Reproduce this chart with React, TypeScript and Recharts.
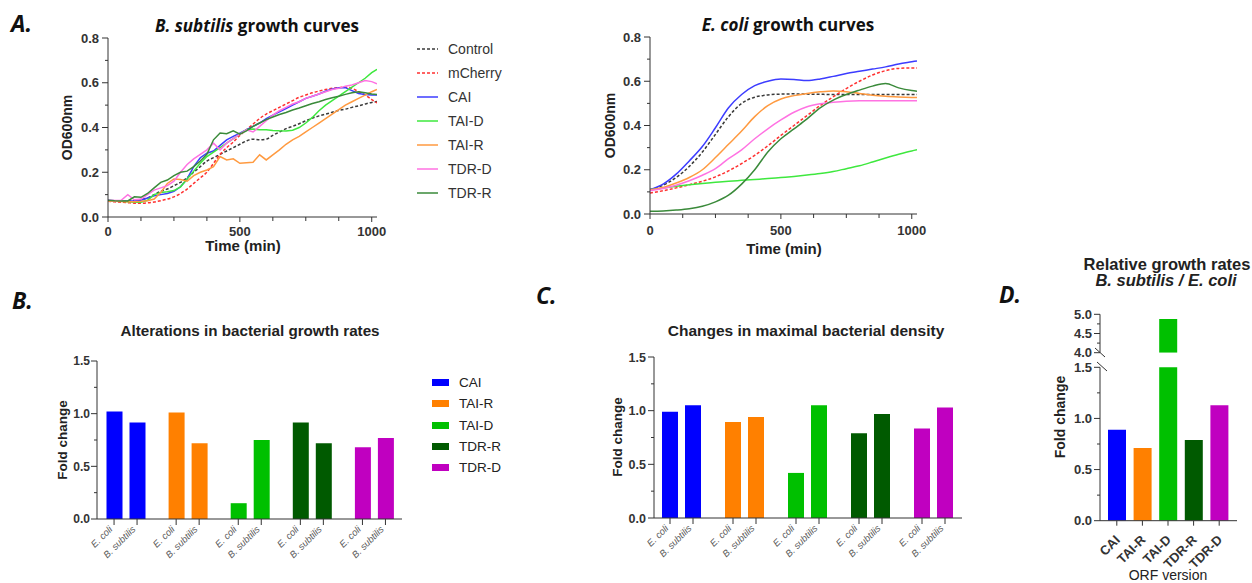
import React from 'react';
import { LineChart, Line, XAxis, YAxis, BarChart, Bar, Cell, Legend } from 'recharts';

// ---------- growth curves ----------
const seriesNames = ['Control', 'mCherry', 'CAI', 'TAI-D', 'TAI-R', 'TDR-D', 'TDR-R'];

const timeBs = [0, 25, 50, 75, 100, 125, 150, 175, 200, 225, 250, 275, 300, 325, 350, 375, 400, 425, 450, 475, 500, 525, 550, 575, 600, 625, 650, 675, 700, 725, 750, 775, 800, 825, 850, 875, 900, 925, 950, 975, 1000, 1020];
const controlBs = [0.07, 0.07, 0.07, 0.07, 0.072, 0.078, 0.085, 0.1, 0.115, 0.125, 0.14, 0.155, 0.175, 0.2, 0.225, 0.25, 0.265, 0.28, 0.295, 0.31, 0.325, 0.34, 0.348, 0.345, 0.348, 0.365, 0.38, 0.395, 0.405, 0.417, 0.43, 0.442, 0.452, 0.46, 0.468, 0.476, 0.482, 0.49, 0.497, 0.505, 0.512, 0.516];
const mCherryBs = [0.07, 0.068, 0.066, 0.064, 0.062, 0.061, 0.063, 0.067, 0.073, 0.08, 0.09, 0.105, 0.125, 0.15, 0.175, 0.2, 0.24, 0.28, 0.31, 0.335, 0.365, 0.39, 0.415, 0.44, 0.46, 0.475, 0.49, 0.505, 0.52, 0.535, 0.545, 0.555, 0.563, 0.57, 0.575, 0.578, 0.58, 0.575, 0.56, 0.545, 0.525, 0.51];
const caiBs = [0.075, 0.073, 0.072, 0.072, 0.073, 0.075, 0.085, 0.095, 0.1, 0.105, 0.115, 0.135, 0.17, 0.225, 0.265, 0.285, 0.295, 0.32, 0.345, 0.36, 0.375, 0.39, 0.405, 0.42, 0.44, 0.455, 0.47, 0.485, 0.5, 0.515, 0.53, 0.54, 0.55, 0.562, 0.572, 0.578, 0.578, 0.565, 0.552, 0.548, 0.545, 0.545];
const taiDBs = [0.07, 0.07, 0.07, 0.068, 0.066, 0.066, 0.075, 0.1, 0.11, 0.113, 0.118, 0.135, 0.17, 0.205, 0.24, 0.27, 0.29, 0.31, 0.33, 0.35, 0.37, 0.39, 0.393, 0.39, 0.39, 0.387, 0.385, 0.384, 0.388, 0.4, 0.42, 0.445, 0.475, 0.5, 0.52, 0.54, 0.56, 0.58, 0.6, 0.62, 0.645, 0.66];
const taiRBs = [0.07, 0.07, 0.069, 0.068, 0.068, 0.07, 0.073, 0.08, 0.11, 0.15, 0.17, 0.168, 0.16, 0.185, 0.2, 0.21, 0.225, 0.27, 0.255, 0.26, 0.24, 0.243, 0.245, 0.278, 0.255, 0.278, 0.3, 0.325, 0.345, 0.36, 0.38, 0.4, 0.42, 0.44, 0.46, 0.48, 0.5, 0.515, 0.53, 0.545, 0.56, 0.57];
const tdrDBs = [0.075, 0.074, 0.075, 0.1, 0.077, 0.08, 0.1, 0.12, 0.13, 0.14, 0.16, 0.2, 0.235, 0.26, 0.28, 0.3, 0.33, 0.3, 0.33, 0.35, 0.37, 0.39, 0.38, 0.405, 0.43, 0.455, 0.475, 0.49, 0.505, 0.515, 0.53, 0.54, 0.55, 0.56, 0.57, 0.575, 0.585, 0.59, 0.6, 0.61, 0.605, 0.595];
const tdrRBs = [0.075, 0.073, 0.072, 0.072, 0.09, 0.088, 0.105, 0.13, 0.155, 0.165, 0.185, 0.2, 0.205, 0.225, 0.25, 0.28, 0.345, 0.375, 0.372, 0.385, 0.37, 0.385, 0.405, 0.42, 0.435, 0.447, 0.458, 0.467, 0.478, 0.487, 0.497, 0.507, 0.515, 0.525, 0.533, 0.54, 0.548, 0.555, 0.56, 0.555, 0.55, 0.548];

const timeEc = [0, 50, 100, 150, 200, 250, 300, 350, 400, 450, 500, 550, 600, 650, 700, 750, 800, 850, 900, 950, 1000, 1020];
const controlEc = [0.11, 0.13, 0.165, 0.215, 0.28, 0.36, 0.44, 0.5, 0.528, 0.538, 0.542, 0.543, 0.542, 0.541, 0.54, 0.54, 0.54, 0.54, 0.54, 0.54, 0.54, 0.54];
const mCherryEc = [0.095, 0.105, 0.118, 0.132, 0.148, 0.168, 0.195, 0.228, 0.265, 0.308, 0.355, 0.4, 0.445, 0.49, 0.53, 0.567, 0.6, 0.628, 0.648, 0.658, 0.66, 0.66];
const caiEc = [0.11, 0.135, 0.18, 0.24, 0.305, 0.39, 0.48, 0.54, 0.58, 0.6, 0.61, 0.608, 0.603, 0.61, 0.622, 0.635, 0.645, 0.655, 0.665, 0.678, 0.688, 0.692];
const taiDEc = [0.11, 0.118, 0.125, 0.132, 0.138, 0.143, 0.148, 0.152, 0.156, 0.16, 0.165, 0.17, 0.176, 0.183, 0.192, 0.205, 0.218, 0.235, 0.253, 0.27, 0.285, 0.29];
const taiREc = [0.11, 0.12, 0.14, 0.165, 0.2, 0.255, 0.315, 0.375, 0.44, 0.49, 0.52, 0.535, 0.545, 0.552, 0.556, 0.553, 0.545, 0.537, 0.532, 0.529, 0.527, 0.526];
const tdrDEc = [0.105, 0.115, 0.13, 0.15, 0.175, 0.205, 0.25, 0.29, 0.34, 0.385, 0.425, 0.46, 0.485, 0.498, 0.505, 0.51, 0.512, 0.512, 0.512, 0.512, 0.512, 0.512];
const tdrREc = [0.012, 0.014, 0.018, 0.024, 0.035, 0.055, 0.085, 0.135, 0.2, 0.28, 0.34, 0.385, 0.43, 0.48, 0.515, 0.54, 0.56, 0.578, 0.59, 0.57, 0.558, 0.555];

// ---------- bar panels ----------
const orfNames = ['CAI', 'TAI-R', 'TAI-D', 'TDR-R', 'TDR-D'];
const species = ['E. coli', 'B. subtilis'];
const growthEcoli = [1.02, 1.01, 0.15, 0.915, 0.68];
const growthBsub = [0.915, 0.72, 0.75, 0.72, 0.77];
const densityEcoli = [0.99, 0.895, 0.42, 0.79, 0.835];
const densityBsub = [1.05, 0.94, 1.05, 0.97, 1.03];
const relativeGrowth = [0.89, 0.71, 4.88, 0.79, 1.13];

// ---------- ticks ----------
const odTicks = [0, 0.1, 0.2, 0.3, 0.4, 0.5, 0.6, 0.7, 0.8];
const timeTicks = [0, 125, 250, 375, 500, 625, 750, 875, 1000];
const foldTicks = [0, 0.25, 0.5, 0.75, 1, 1.25, 1.5];
const breakTicks = [4, 4.25, 4.5, 4.75, 5];

// ---------- styles ----------
const ARIAL = '"Liberation Sans", Arial, sans-serif';
const CALIBRI = '"Open Sans", Lato, sans-serif';
const AXIS = '#333';

const lineStyle: Record<string, { color: string; dash?: string }> = {
  Control: { color: '#3a3a3a', dash: '3 2' },
  mCherry: { color: '#ff3030', dash: '3 2' },
  CAI: { color: '#3c3cff' },
  'TAI-D': { color: '#3ee83e' },
  'TAI-R': { color: '#ff9a40' },
  'TDR-D': { color: '#ff72e2' },
  'TDR-R': { color: '#3a8a3a' },
};
const orfColors = ['#0000ff', '#ff8000', '#00c000', '#005a00', '#c000c0'];

const bsSeries = [controlBs, mCherryBs, caiBs, taiDBs, taiRBs, tdrDBs, tdrRBs];
const ecSeries = [controlEc, mCherryEc, caiEc, taiDEc, taiREc, tdrDEc, tdrREc];

const bsRows = timeBs.map((t, i) => {
  const row: Record<string, number> = { t };
  seriesNames.forEach((n, k) => (row[n] = bsSeries[k][i]));
  return row;
});
const ecRows = timeEc.map((t, i) => {
  const row: Record<string, number> = { t };
  seriesNames.forEach((n, k) => (row[n] = ecSeries[k][i]));
  return row;
});
const growthRows = orfNames.map((orf, i) => ({ orf, ecoli: growthEcoli[i], bsub: growthBsub[i] }));
const densityRows = orfNames.map((orf, i) => ({ orf, ecoli: densityEcoli[i], bsub: densityBsub[i] }));
const relativeRows = orfNames.map((orf, i) => ({
  orf,
  value: relativeGrowth[i],
  top: relativeGrowth[i] >= 4 ? relativeGrowth[i] : null,
}));

const fmt1 = (v: number) => v.toFixed(1);

function yTick(major: number, fontSize: number, gap: number) {
  return (p: any) => {
    const v = Number(p.payload.value);
    const isMajor = Math.abs(v / major - Math.round(v / major)) < 1e-6;
    return (
      <g>
        <line x1={p.x - (isMajor ? 6 : 3)} x2={p.x} y1={p.y} y2={p.y} stroke={AXIS} />
        {isMajor ? (
          <text x={p.x - gap} y={p.y} dy="0.36em" textAnchor="end" fontFamily={ARIAL} fontWeight={700} fontSize={fontSize} fill={AXIS}>
            {fmt1(v)}
          </text>
        ) : null}
      </g>
    );
  };
}

function timeTick(labelDy: number) {
  return (p: any) => {
    const v = Number(p.payload.value);
    const isMajor = v % 500 === 0;
    return (
      <g>
        <line x1={p.x} x2={p.x} y1={p.y} y2={p.y + (isMajor ? 5 : 4)} stroke={AXIS} />
        {isMajor ? (
          <text x={p.x} y={p.y + labelDy} textAnchor="middle" fontFamily={ARIAL} fontWeight={700} fontSize={13} fill={AXIS}>
            {v}
          </text>
        ) : null}
      </g>
    );
  };
}

const BAR = 16;
const GAP = 7;
function pairTick(p: any) {
  const off = (BAR + GAP) / 2;
  return (
    <g>
      {species.map((s, i) => {
        const x = p.x + (i === 0 ? -off : off);
        const ax = x - 1;
        const ay = p.y + 11;
        return (
          <g key={s}>
            <line x1={x} x2={x} y1={p.y} y2={p.y + 6} stroke={AXIS} />
            <text x={ax} y={ay} transform={`rotate(-45 ${ax} ${ay})`} textAnchor="end" fontFamily={ARIAL} fontStyle="italic" fontSize={9.5} fill="#5a5a5a">
              {s}
            </text>
          </g>
        );
      })}
    </g>
  );
}

function orfTick(p: any) {
  const ax = p.x + 4;
  const ay = p.y + 20;
  return (
    <g>
      <line x1={p.x} x2={p.x} y1={p.y} y2={p.y + 5} stroke={AXIS} />
      <text x={ax} y={ay} transform={`rotate(-45 ${ax} ${ay})`} textAnchor="end" fontFamily={ARIAL} fontWeight={700} fontSize={13} fill={AXIS}>
        {p.payload.value}
      </text>
    </g>
  );
}

const LineLegend = () => (
  <div style={{ fontFamily: ARIAL, fontSize: 14, color: '#333' }}>
    {seriesNames.map((n) => (
      <div key={n} style={{ display: 'flex', alignItems: 'center', height: 24 }}>
        <svg width={21} height={4} style={{ marginRight: 10 }}>
          <line x1={0} y1={2} x2={21} y2={2} stroke={lineStyle[n].color} strokeWidth={1.5} strokeDasharray={lineStyle[n].dash} />
        </svg>
        <span>{n}</span>
      </div>
    ))}
  </div>
);

const BarLegend = () => (
  <div style={{ fontFamily: ARIAL, fontSize: 13.5, color: '#222' }}>
    {orfNames.map((n, i) => (
      <div key={n} style={{ display: 'flex', alignItems: 'center', height: 21.3 }}>
        <div style={{ width: 17, height: 7, background: orfColors[i], marginRight: 10 }} />
        <span>{n}</span>
      </div>
    ))}
  </div>
);

function curveLines(smooth: boolean) {
  return seriesNames.map((n) => (
    <Line
      key={n}
      dataKey={n}
      type={smooth || lineStyle[n].dash ? 'monotone' : 'linear'}
      stroke={lineStyle[n].color}
      strokeWidth={1.5}
      strokeDasharray={lineStyle[n].dash}
      dot={false}
      activeDot={false}
      isAnimationActive={false}
    />
  ));
}

const abs = (left: number, top: number): React.CSSProperties => ({ position: 'absolute', left, top });

export default function App() {
  return (
    <div style={{ position: 'fixed', left: 0, top: 0, width: 1252, height: 583, background: '#fff', overflow: 'hidden' }}>
      {/* A: B. subtilis */}
      <div style={abs(0, 0)}>
        <LineChart width={560} height={270} data={bsRows} margin={{ top: 38, right: 183, bottom: 0, left: 0 }}>
          <XAxis dataKey="t" type="number" domain={[0, 1020]} ticks={timeTicks} interval={0} height={53} tickSize={0} tickMargin={0} tickLine={false} tick={timeTick(19)} stroke={AXIS} allowDataOverflow />
          <YAxis type="number" domain={[0, 0.8]} ticks={odTicks} interval={0} width={108} tickSize={0} tickMargin={0} tickLine={false} tick={yTick(0.2, 13, 9)} stroke={AXIS} />
          <Legend layout="vertical" align="center" verticalAlign="middle" wrapperStyle={{ left: 417, top: 37, width: 120 }} content={LineLegend} />
          {curveLines(false)}
        </LineChart>
      </div>

      {/* A: E. coli */}
      <div style={abs(542, 0)}>
        <LineChart width={400} height={270} data={ecRows} margin={{ top: 37, right: 25, bottom: 0, left: 0 }}>
          <XAxis dataKey="t" type="number" domain={[0, 1020]} ticks={timeTicks} interval={0} height={56} tickSize={0} tickMargin={0} tickLine={false} tick={timeTick(21)} stroke={AXIS} allowDataOverflow />
          <YAxis type="number" domain={[0, 0.8]} ticks={odTicks} interval={0} width={108} tickSize={0} tickMargin={0} tickLine={false} tick={yTick(0.2, 13, 9)} stroke={AXIS} />
          {curveLines(true)}
        </LineChart>
      </div>

      {/* B */}
      <div style={abs(0, 280)}>
        <BarChart width={520} height={300} data={growthRows} margin={{ top: 81, right: 118, bottom: 0, left: 0 }} barSize={BAR} barGap={GAP}>
          <XAxis dataKey="orf" height={61} padding={{ left: -2.5, right: -3 }} interval={0} tickSize={0} tickMargin={0} tickLine={false} tick={pairTick} stroke={AXIS} />
          <YAxis type="number" domain={[0, 1.5]} ticks={foldTicks} interval={0} width={97} tickSize={0} tickMargin={0} tickLine={false} tick={yTick(0.5, 12, 7)} stroke={AXIS} />
          <Legend layout="vertical" align="center" verticalAlign="middle" wrapperStyle={{ left: 432, top: 92, width: 90 }} content={BarLegend} />
          <Bar dataKey="ecoli" isAnimationActive={false}>
            {orfColors.map((c) => <Cell key={c} fill={c} />)}
          </Bar>
          <Bar dataKey="bsub" isAnimationActive={false}>
            {orfColors.map((c) => <Cell key={c} fill={c} />)}
          </Bar>
        </BarChart>
      </div>

      {/* C */}
      <div style={abs(540, 280)}>
        <BarChart width={430} height={300} data={densityRows} margin={{ top: 77, right: 8, bottom: 0, left: 0 }} barSize={BAR} barGap={GAP}>
          <XAxis dataKey="orf" height={62} padding={{ left: -4, right: -3 }} interval={0} tickSize={0} tickMargin={0} tickLine={false} tick={pairTick} stroke={AXIS} />
          <YAxis type="number" domain={[0, 1.5]} ticks={foldTicks} interval={0} width={114} tickSize={0} tickMargin={0} tickLine={false} tick={yTick(0.5, 12.5, 8)} stroke={AXIS} />
          <Bar dataKey="ecoli" isAnimationActive={false}>
            {orfColors.map((c) => <Cell key={c} fill={c} />)}
          </Bar>
          <Bar dataKey="bsub" isAnimationActive={false}>
            {orfColors.map((c) => <Cell key={c} fill={c} />)}
          </Bar>
        </BarChart>
      </div>

      {/* D upper segment */}
      <div style={abs(990, 300)}>
        <BarChart width={260} height={60} data={relativeRows} margin={{ top: 14.3, right: 13, bottom: 7.3, left: 0 }} barSize={18}>
          <XAxis dataKey="orf" hide padding={{ left: 4, right: 5 }} />
          <YAxis type="number" domain={[4, 5]} ticks={breakTicks} interval={0} width={110} tickSize={0} tickMargin={0} tickLine={false} tick={yTick(0.5, 13, 8)} stroke={AXIS} allowDataOverflow />
          <Bar dataKey="top" isAnimationActive={false}>
            {orfColors.map((c) => <Cell key={c} fill={c} />)}
          </Bar>
        </BarChart>
      </div>

      {/* D lower segment */}
      <div style={abs(990, 360)}>
        <BarChart width={260} height={223} data={relativeRows} margin={{ top: 7.3, right: 13, bottom: 0, left: 0 }} barSize={18}>
          <XAxis dataKey="orf" height={62.3} padding={{ left: 4, right: 5 }} interval={0} tickSize={0} tickMargin={0} tickLine={false} tick={orfTick} stroke={AXIS} />
          <YAxis type="number" domain={[0, 1.5]} ticks={foldTicks} interval={0} width={110} tickSize={0} tickMargin={0} tickLine={false} tick={yTick(0.5, 13, 8)} stroke={AXIS} allowDataOverflow />
          <Bar dataKey="value" isAnimationActive={false}>
            {orfColors.map((c) => <Cell key={c} fill={c} />)}
          </Bar>
        </BarChart>
      </div>

      {/* titles and axis titles */}
      <svg width={1252} height={583} style={{ position: 'absolute', left: 0, top: 0, pointerEvents: 'none' }}>
        <g fontFamily={CALIBRI} fontWeight={700} fill="#111">
          <text x={11} y={32} fontSize={23} fontStyle="italic">A.</text>
          <text x={12} y={309} fontSize={23} fontStyle="italic">B.</text>
          <text x={536} y={304} fontSize={23} fontStyle="italic">C.</text>
          <text x={999} y={303} fontSize={23} fontStyle="italic">D.</text>
          <text x={257} y={32} fontSize={17} textAnchor="middle">
            <tspan fontStyle="italic">B. subtilis</tspan> growth curves
          </text>
          <text x={788} y={31} fontSize={17} textAnchor="middle">
            <tspan fontStyle="italic">E. coli</tspan> growth curves
          </text>
        </g>
        <g fontFamily={ARIAL} fontWeight={700} fill="#222">
          <text x={243} y={251} fontSize={15} textAnchor="middle">Time (min)</text>
          <text x={784} y={254} fontSize={15} textAnchor="middle">Time (min)</text>
          <text x={72} y={127.5} fontSize={14} textAnchor="middle" transform="rotate(-90 72 127.5)">OD600nm</text>
          <text x={615} y={125.5} fontSize={14} textAnchor="middle" transform="rotate(-90 615 125.5)">OD600nm</text>
          <text x={250} y={336} fontSize={15.2} textAnchor="middle">Alterations in bacterial growth rates</text>
          <text x={806} y={336} fontSize={15.5} textAnchor="middle">Changes in maximal bacterial density</text>
          <text x={67} y={440} fontSize={13.5} textAnchor="middle" transform="rotate(-90 67 440)">Fold change</text>
          <text x={622} y={437} fontSize={13.5} textAnchor="middle" transform="rotate(-90 622 437)">Fold change</text>
          <text x={1065} y={417} fontSize={14} textAnchor="middle" transform="rotate(-90 1065 417)">Fold change</text>
          <text x={1167} y={270} fontSize={16.5} textAnchor="middle">Relative growth rates</text>
          <text x={1166} y={286} fontSize={16.5} textAnchor="middle" fontStyle="italic">B. subtilis / E. coli</text>
        </g>
        <text x={1168} y={580} fontFamily={ARIAL} fontSize={14} textAnchor="middle" fill="#222">ORF version</text>
        <line x1={1095} y1={348} x2={1105} y2={357} stroke={AXIS} />
        <line x1={1097} y1={362} x2={1107} y2={371} stroke={AXIS} />
      </svg>
    </div>
  );
}
